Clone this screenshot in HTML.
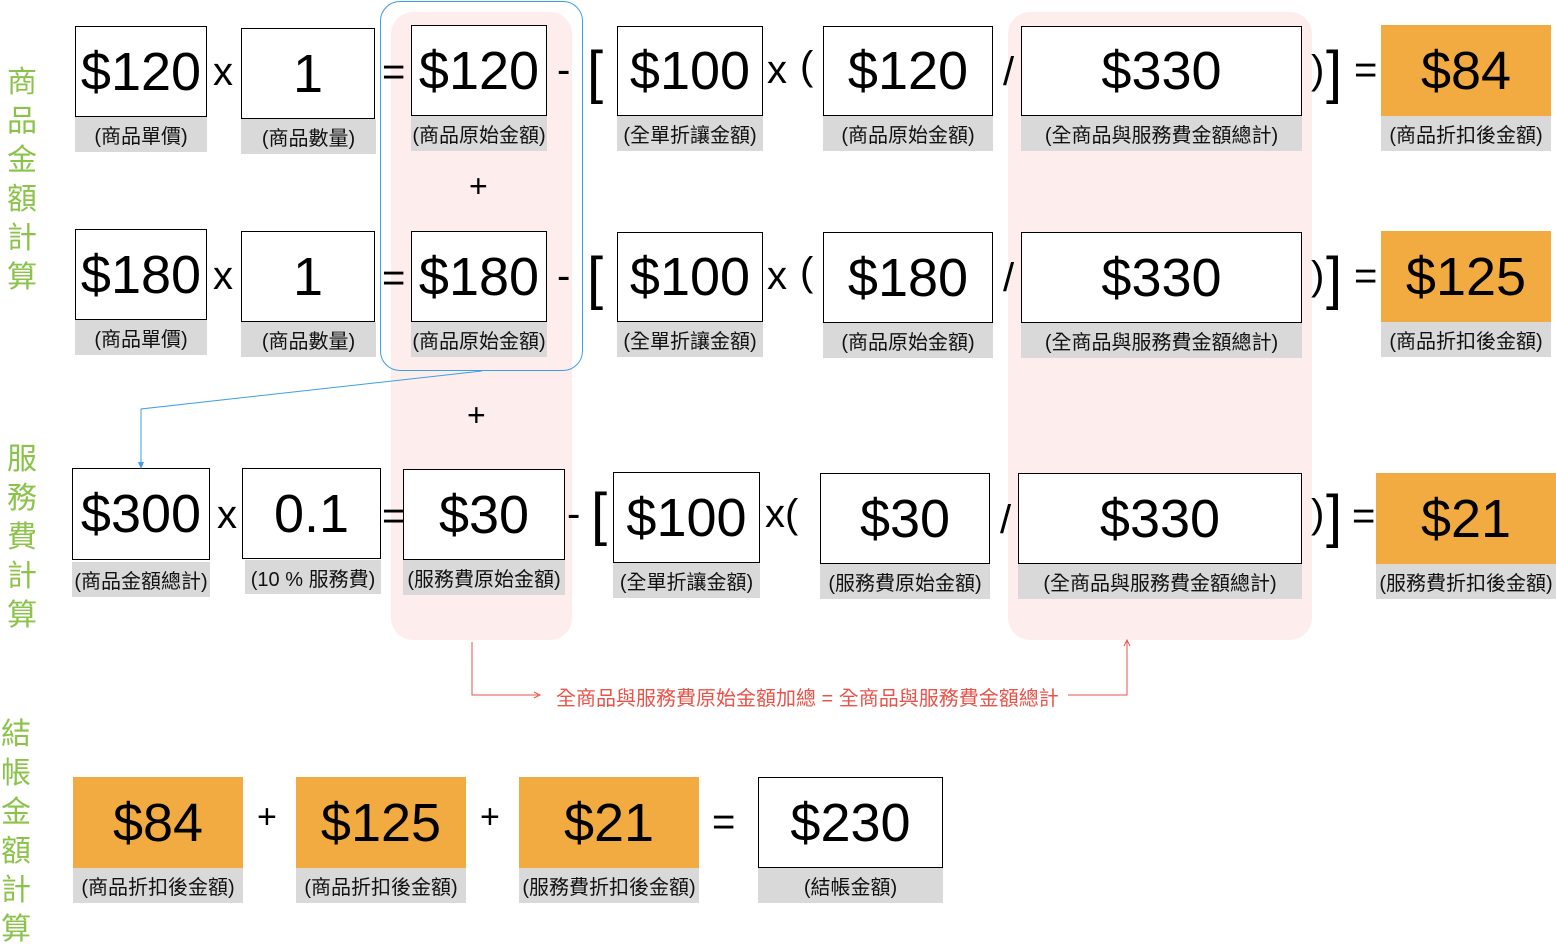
<!DOCTYPE html>
<html><head><meta charset="utf-8"><style>
*{margin:0;padding:0;box-sizing:border-box}
body{width:1556px;height:948px;background:#fff;position:relative;overflow:hidden;font-family:"Liberation Sans","Noto Sans CJK TC",sans-serif}
div{position:absolute}
.b{border:1.5px solid #000;background:#fff;display:flex;align-items:center;justify-content:center;font-size:54px;color:#000}
.o{background:#f2ab41;border:none}
.l{background:#d9d9d9;display:flex;align-items:center;justify-content:center;font-size:20px;color:#111;white-space:nowrap}
.op{font-size:40px;color:#000;line-height:1}
.big{font-size:58px;line-height:1}
.side{color:#8bc34a;font-size:30px;line-height:39px;width:40px;text-align:center}
.pink{background:#fdeeed;border-radius:22px}
</style></head><body>
<div class="pink" style="left:391px;top:12px;width:181px;height:628px"></div>
<div class="pink" style="left:1008px;top:12px;width:304px;height:628px"></div>
<div style="left:380px;top:1px;width:203px;height:370px;border:1.5px solid #3f9ee8;border-radius:20px"></div>

<div class="side" style="left:2px;top:63px">商<br>品<br>金<br>額<br>計<br>算</div>
<div class="side" style="left:2px;top:440px">服<br>務<br>費<br>計<br>算</div>
<div class="side" style="left:-4px;top:715px">結<br>帳<br>金<br>額<br>計<br>算</div>

<!-- row 1 -->
<div class="b" style="left:75px;top:26px;width:132px;height:91px">$120</div><div class="l" style="left:75px;top:117px;width:132px;height:35px">(商品單價)</div>
<div class="op" style="left:213px;top:52px">x</div>
<div class="b" style="left:241px;top:28px;width:134px;height:91px">1</div><div class="l" style="left:241px;top:119px;width:135px;height:35px">(商品數量)</div>
<div class="op" style="left:382px;top:52px">=</div>
<div class="b" style="left:411px;top:25px;width:136px;height:91px">$120</div><div class="l" style="left:411px;top:116px;width:136px;height:35px">(商品原始金額)</div>
<div class="op" style="left:557px;top:50px">-</div>
<div class="op big" style="left:587px;top:44px">[</div>
<div class="b" style="left:617px;top:26px;width:146px;height:90px">$100</div><div class="l" style="left:617px;top:116px;width:146px;height:35px">(全單折讓金額)</div>
<div class="op" style="left:767px;top:50px">x</div><div class="op" style="left:800px;top:46px">(</div>
<div class="b" style="left:823px;top:26px;width:170px;height:90px">$120</div><div class="l" style="left:823px;top:116px;width:170px;height:35px">(商品原始金額)</div>
<div class="op" style="left:1003px;top:52px">/</div>
<div class="b" style="left:1021px;top:26px;width:281px;height:90px">$330</div><div class="l" style="left:1021px;top:116px;width:281px;height:35px">(全商品與服務費金額總計)</div>
<div class="op" style="left:1311px;top:50px">)</div><div class="op big" style="left:1326px;top:44px">]</div><div class="op" style="left:1354px;top:50px">=</div>
<div class="b o" style="left:1381px;top:25px;width:170px;height:91px">$84</div><div class="l" style="left:1381px;top:116px;width:170px;height:35px">(商品折扣後金額)</div>

<div class="op" style="left:469px;top:170px;font-size:32px">+</div>

<!-- row 2 -->
<div class="b" style="left:75px;top:229px;width:132px;height:91px">$180</div><div class="l" style="left:75px;top:320px;width:132px;height:35px">(商品單價)</div>
<div class="op" style="left:213px;top:256px">x</div>
<div class="b" style="left:241px;top:231px;width:134px;height:91px">1</div><div class="l" style="left:241px;top:322px;width:135px;height:35px">(商品數量)</div>
<div class="op" style="left:382px;top:258px">=</div>
<div class="b" style="left:411px;top:231px;width:136px;height:91px">$180</div><div class="l" style="left:411px;top:322px;width:136px;height:35px">(商品原始金額)</div>
<div class="op" style="left:557px;top:256px">-</div>
<div class="op big" style="left:587px;top:250px">[</div>
<div class="b" style="left:617px;top:232px;width:146px;height:90px">$100</div><div class="l" style="left:617px;top:322px;width:146px;height:35px">(全單折讓金額)</div>
<div class="op" style="left:767px;top:256px">x</div><div class="op" style="left:800px;top:252px">(</div>
<div class="b" style="left:823px;top:232px;width:170px;height:91px">$180</div><div class="l" style="left:823px;top:323px;width:170px;height:35px">(商品原始金額)</div>
<div class="op" style="left:1003px;top:258px">/</div>
<div class="b" style="left:1021px;top:232px;width:281px;height:91px">$330</div><div class="l" style="left:1021px;top:323px;width:281px;height:35px">(全商品與服務費金額總計)</div>
<div class="op" style="left:1311px;top:256px">)</div><div class="op big" style="left:1326px;top:250px">]</div><div class="op" style="left:1354px;top:256px">=</div>
<div class="b o" style="left:1381px;top:231px;width:170px;height:91px">$125</div><div class="l" style="left:1381px;top:322px;width:170px;height:35px">(商品折扣後金額)</div>

<div class="op" style="left:467px;top:399px;font-size:32px">+</div>

<!-- row 3 -->
<div class="b" style="left:72px;top:468px;width:138px;height:92px">$300</div><div class="l" style="left:72px;top:562px;width:138px;height:35px">(商品金額總計)</div>
<div class="op" style="left:217px;top:495px">x</div>
<div class="b" style="left:242px;top:468px;width:139px;height:91px">0.1</div><div class="l" style="left:245px;top:560px;width:136px;height:34px">(10 % 服務費)</div>
<div class="op" style="left:382px;top:496px">=</div>
<div class="b" style="left:403px;top:469px;width:162px;height:91px">$30</div><div class="l" style="left:403px;top:560px;width:162px;height:35px">(服務費原始金額)</div>
<div class="op" style="left:567px;top:494px">-</div>
<div class="op big" style="left:591px;top:486px">[</div>
<div class="b" style="left:613px;top:472px;width:147px;height:91px">$100</div><div class="l" style="left:613px;top:563px;width:147px;height:35px">(全單折讓金額)</div>
<div class="op" style="left:765px;top:494px">x(</div>
<div class="b" style="left:820px;top:473px;width:170px;height:91px">$30</div><div class="l" style="left:820px;top:564px;width:170px;height:35px">(服務費原始金額)</div>
<div class="op" style="left:1000px;top:500px">/</div>
<div class="b" style="left:1018px;top:473px;width:284px;height:91px">$330</div><div class="l" style="left:1018px;top:564px;width:284px;height:35px">(全商品與服務費金額總計)</div>
<div class="op" style="left:1311px;top:494px">)</div><div class="op big" style="left:1326px;top:488px">]</div><div class="op" style="left:1352px;top:496px">=</div>
<div class="b o" style="left:1376px;top:473px;width:180px;height:91px">$21</div><div class="l" style="left:1376px;top:564px;width:180px;height:35px">(服務費折扣後金額)</div>

<!-- row 4 -->
<div class="b o" style="left:73px;top:777px;width:170px;height:91px">$84</div><div class="l" style="left:73px;top:868px;width:170px;height:35px">(商品折扣後金額)</div>
<div class="op" style="left:257px;top:800px;font-size:34px">+</div>
<div class="b o" style="left:296px;top:777px;width:170px;height:91px">$125</div><div class="l" style="left:296px;top:868px;width:170px;height:35px">(商品折扣後金額)</div>
<div class="op" style="left:480px;top:800px;font-size:34px">+</div>
<div class="b o" style="left:519px;top:777px;width:180px;height:91px">$21</div><div class="l" style="left:519px;top:868px;width:180px;height:35px">(服務費折扣後金額)</div>
<div class="op" style="left:712px;top:802px">=</div>
<div class="b" style="left:758px;top:777px;width:185px;height:91px">$230</div><div class="l" style="left:758px;top:868px;width:185px;height:35px">(結帳金額)</div>

<div style="left:556px;top:682px;font-size:20px;color:#e8534a;white-space:nowrap">全商品與服務費原始金額加總 = 全商品與服務費金額總計</div>

<svg width="1556" height="948" style="position:absolute;left:0;top:0">
<polyline points="482,371 141,409 141,466" fill="none" stroke="#3f9ee8" stroke-width="1"/>
<polygon points="138,462 144,462 141,469" fill="#3f9ee8"/>
<polyline points="472,642 472,695 538,695" fill="none" stroke="#e8534a" stroke-width="1"/>
<polyline points="534,692 540,695 534,698" fill="none" stroke="#e8534a" stroke-width="1"/>
<polyline points="1068,695 1127,695 1127,641" fill="none" stroke="#e8534a" stroke-width="1"/>
<polyline points="1124,646 1127,640 1130,646" fill="none" stroke="#e8534a" stroke-width="1"/>
</svg>
</body></html>
